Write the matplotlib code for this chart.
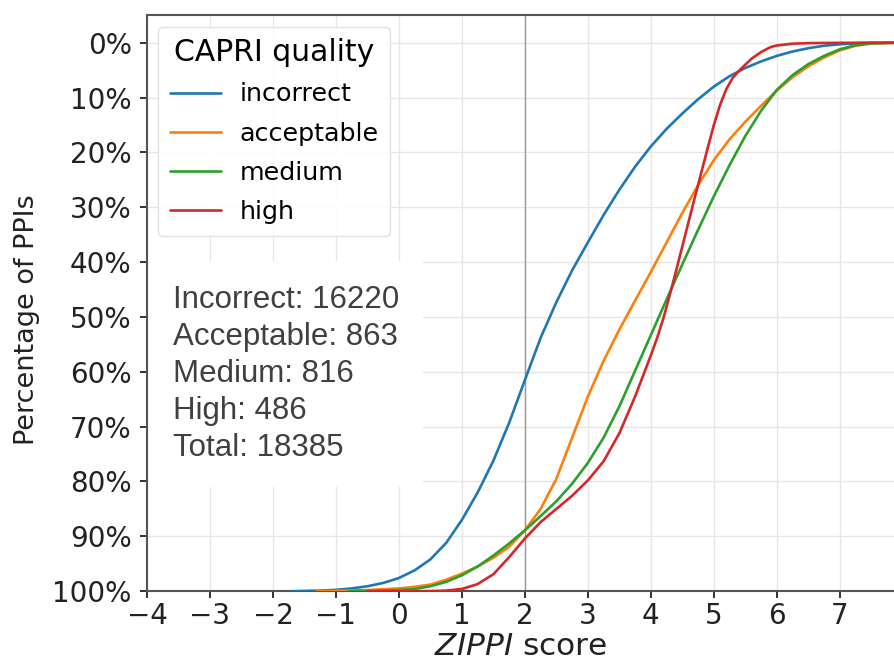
import matplotlib
matplotlib.use("Agg")
import matplotlib.pyplot as plt
from matplotlib.ticker import FuncFormatter

# ---- data ----
qualities = ["incorrect", "acceptable", "medium", "high"]
colors = ["#1f77b4", "#ff7f0e", "#2ca02c", "#d62728"]

incorrect_x = [-1.7, -1.25, -1.0, -0.75, -0.5, -0.25, 0.0, 0.25, 0.5, 0.75, 1.0, 1.25, 1.5, 1.75,
               2.0, 2.25, 2.5, 2.75, 3.0, 3.25, 3.5, 3.75, 4.0, 4.25, 4.5, 4.75, 5.0, 5.25, 5.5,
               5.75, 6.0, 6.25, 6.5, 6.75, 7.0, 7.25, 7.5, 7.9]
incorrect_y = [100, 99.9, 99.75, 99.5, 99.1, 98.5, 97.6, 96.2, 94.2, 91.2, 87.0, 82.0, 76.2, 69.3,
               61.5, 53.8, 47.3, 41.5, 36.4, 31.4, 26.8, 22.6, 18.9, 15.7, 12.9, 10.3, 8.0, 6.1, 4.6,
               3.4, 2.4, 1.6, 1.0, 0.55, 0.28, 0.12, 0.04, 0]

acceptable_x = [-1.3, -1.0, -0.5, 0.0, 0.25, 0.5, 0.75, 1.0, 1.25, 1.5, 1.75, 2.0, 2.25, 2.5, 2.75,
                3.0, 3.25, 3.5, 3.75, 4.0, 4.25, 4.5, 4.75, 5.0, 5.25, 5.5, 5.75, 6.0, 6.25, 6.5,
                6.75, 7.0, 7.25, 7.5, 7.9]
acceptable_y = [100, 99.95, 99.8, 99.5, 99.2, 98.8, 97.9, 96.8, 95.5, 93.9, 91.9, 88.9, 85.0, 79.5, 72.0,
                64.5, 58.0, 52.3, 47.0, 41.8, 36.4, 31.0, 26.0, 21.4, 17.6, 14.4, 11.5, 8.7, 6.3, 4.3,
                2.7, 1.4, 0.55, 0.15, 0]

medium_x = [-0.8, -0.5, 0.0, 0.25, 0.5, 0.75, 1.0, 1.25, 1.5, 1.75, 2.0, 2.25, 2.5, 2.75, 3.0,
            3.25, 3.5, 3.75, 4.0, 4.25, 4.5, 4.75, 5.0, 5.25, 5.5, 5.75, 6.0, 6.25, 6.5, 6.75,
            7.0, 7.25, 7.5, 7.9]
medium_y = [100, 99.95, 99.8, 99.6, 99.1, 98.3, 97.1, 95.5, 93.5, 91.3, 88.9, 86.3, 83.6, 80.4, 76.6,
            72.0, 66.3, 59.8, 53.3, 46.8, 40.4, 34.1, 28.0, 22.3, 17.0, 12.4, 8.6, 5.9, 3.9, 2.4,
            1.2, 0.45, 0.1, 0]

high_x = [-0.5, 0.25, 0.5, 0.75, 1.0, 1.25, 1.5, 1.75, 2.0, 2.25, 2.5, 2.75, 3.0, 3.25, 3.5, 3.75,
          4.0, 4.1, 4.2, 4.3, 4.4, 4.5, 4.6, 4.7, 4.8, 4.9, 5.0, 5.1, 5.2, 5.3, 5.4, 5.5, 5.6,
          5.75, 5.9, 6.0, 6.25, 6.5, 7.0, 7.5, 7.9]
high_y = [100, 100, 99.98, 99.9, 99.6, 98.7, 96.9, 93.8, 90.4, 87.4, 85.0, 82.6, 79.8, 76.3, 71.2, 64.5,
          57.0, 53.8, 50.2, 46.0, 41.6, 37.1, 32.6, 28.1, 23.7, 19.3, 15.0, 11.3, 8.4, 6.4, 5.1, 4.0, 2.9,
          1.7, 0.8, 0.5, 0.18, 0.07, 0.02, 0, 0]

counts_text = ["Incorrect: 16220", "Acceptable: 863", "Medium: 816", "High: 486", "Total: 18385"]

x_ticks = list(range(-4, 8))
y_ticks = list(range(0, 101, 10))

series_x = [incorrect_x, acceptable_x, medium_x, high_x]
series_y = [incorrect_y, acceptable_y, medium_y, high_y]

# ---- figure ----
fig = plt.figure(figsize=(8.94, 6.65), dpi=100)
ax = fig.add_axes([0.1644, 0.111, 0.8356, 0.866])

ax.grid(True, color="#e6e6e6", linewidth=1.0, zorder=0)
ax.set_axisbelow(True)
ax.axvline(2, color="#999999", linewidth=1.0, zorder=1)

for name, c, xs, ys in zip(qualities, colors, series_x, series_y):
    ax.plot(xs, ys, color=c, linewidth=1.9, label=name, zorder=3,
            solid_joinstyle="round", solid_capstyle="round")

ax.set_xlim(-4, 7.86)
ax.set_ylim(100, -5)
ax.set_xticks(x_ticks)
ax.set_yticks(y_ticks)
ax.xaxis.set_major_formatter(FuncFormatter(lambda v, p: f"{int(v)}".replace("-", "\u2212")))
ax.yaxis.set_major_formatter(FuncFormatter(lambda v, p: f"{int(v)}%"))
ax.tick_params(axis="both", labelsize=20, colors="#222222", length=5, width=1.3,
               direction="out")
ax.tick_params(axis="y", pad=6)
ax.tick_params(axis="x", pad=3)
for s in ["left", "bottom", "top"]:
    ax.spines[s].set_color("#555555")
    ax.spines[s].set_linewidth(1.5)
ax.spines["right"].set_visible(False)

ax.set_ylabel("Percentage of PPIs", fontsize=19.5, color="#222222")
ax.yaxis.set_label_coords(-0.143, 0.472)
ax.set_xlabel(r"$\it{ZIPPI}$ score", fontsize=22.5, color="#222222", labelpad=1)

leg = ax.legend(title="CAPRI quality", loc="upper left", fontsize=18.3, title_fontsize=21.5,
                handlelength=2.0, handletextpad=0.75, borderaxespad=0.45, framealpha=0.9,
                edgecolor="#dddddd", fancybox=True, labelspacing=0.6, borderpad=0.45)
leg.get_frame().set_linewidth(1.0)

ax.text(-3.59, 60.4, "\n".join(counts_text), ha="left", va="center",
        fontsize=22.5, family="Liberation Sans", color="#404040", linespacing=1.3,
        bbox=dict(facecolor="white", edgecolor="none", pad=17), zorder=2)

fig.savefig("out.png", dpi=100)
